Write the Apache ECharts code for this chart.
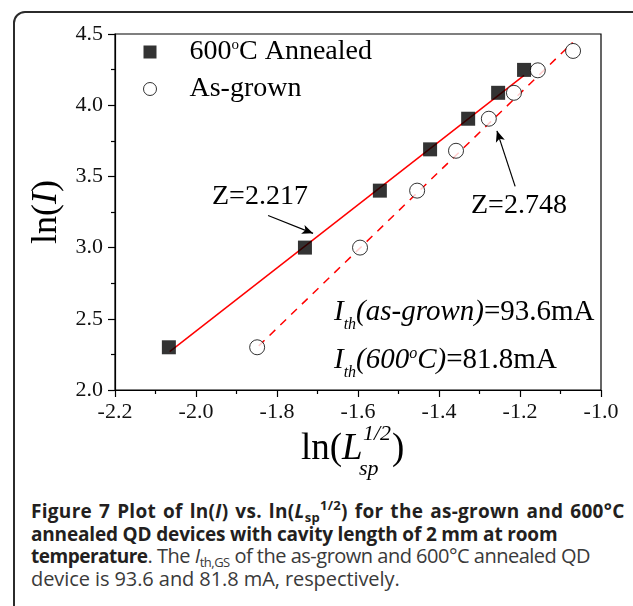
<!DOCTYPE html>
<html>
<head>
<meta charset="utf-8">
<script src="https://cdn.jsdelivr.net/npm/echarts@6/dist/echarts.min.js"></script>
<style>
  body { margin: 0; background: #fff; width: 633px; height: 606px; overflow: hidden; position: relative; }
  #frame { position: absolute; left: 13px; top: 11px; width: 700px; height: 700px; border: 2px solid #2b2b2b; border-radius: 12px; }
  #chart { position: absolute; left: 0; top: 0; width: 633px; height: 490px; }
  #caption { position: absolute; left: 31px; top: 500px; font-family: "Open Sans"; font-size: 20px; line-height: 22.6px; color: #3a3a3a; white-space: nowrap; }
  #caption div { height: 22.6px; }
  #caption b { color: #231f20; font-size: 19px; }
  #caption .l1 { letter-spacing: 0.3px; word-spacing: 1.7px; }
  #caption .l2 { letter-spacing: -0.17px; }
  #caption .l3 { letter-spacing: -0.5px; }
  #caption .l4 { letter-spacing: -0.08px; }
  #caption .sb { font-size: 13px; position: relative; top: 4px; }
  #caption .sp { font-size: 13px; position: relative; top: -8px; }
</style>
</head>
<body>
<div id="frame"></div>
<div id="chart"></div>
<div id="caption">
  <div class="l1"><b>Figure 7 Plot of ln(<i>I</i>) vs. ln(<i>L</i><span class="sb">sp</span><span class="sp">1/2</span>) for the as-grown and 600°C</b></div>
  <div class="l2"><b>annealed QD devices with cavity length of 2 mm at room</b></div>
  <div class="l3"><b>temperature</b>. The <i>I</i><span class="sb">th,GS</span> of the as-grown and 600°C annealed QD</div>
  <div class="l4">device is 93.6 and 81.8 mA, respectively.</div>
</div>
<script>
  // 600°C annealed (filled squares)
  var annealedX = [-2.067, -1.731, -1.546, -1.422, -1.328, -1.254, -1.190];
  var annealedY = [2.30, 3.00, 3.40, 3.69, 3.905, 4.087, 4.248];
  // as-grown (open circles)
  var grownX = [-1.849, -1.595, -1.454, -1.358, -1.277, -1.215, -1.156, -1.069];
  var grownY = [2.30, 3.00, 3.40, 3.68, 3.905, 4.087, 4.245, 4.381];
  // fitted lines (end points)
  var fitAnnealedX = [-2.065, -1.19];
  var fitAnnealedY = [2.27, 4.21];
  var fitGrownX = [-1.845, -1.07];
  var fitGrownY = [2.31, 4.44];
  // annotation arrows [x0, y0, x1, y1]
  var arrowAnnealed = [-1.822, 3.225, -1.711, 3.10];
  var arrowGrown = [-1.212, 3.43, -1.257, 3.82];

  function pairs(xs, ys) {
    return xs.map(function (x, i) { return [x, ys[i]]; });
  }
  function arrow(a) {
    return [{ coord: [a[0], a[1]] }, { coord: [a[2], a[3]] }];
  }

  var serif = 'Liberation Serif';
  var chart = echarts.init(document.getElementById('chart'));
  var option = {
    animation: false,
    grid: {
      left: 115, top: 34, width: 486, height: 356,
      show: true, borderColor: '#000', borderWidth: 1.2, backgroundColor: 'transparent'
    },
    legend: {
      orient: 'vertical', left: 138, top: 33, itemGap: 9,
      itemWidth: 13, itemHeight: 13,
      textStyle: {
        fontFamily: serif, fontSize: 28, color: '#000',
        rich: {
          g: { width: 28 },
          sup: { fontFamily: serif, fontSize: 15, color: '#000', verticalAlign: 'top' }
        }
      },
      formatter: function (name) {
        return name === '600°C Annealed' ? '{g|}600{sup|o}C Annealed' : '{g|}' + name;
      },
      data: [
        { name: '600°C Annealed', icon: 'rect', itemStyle: { color: '#000' } },
        { name: 'As-grown', icon: 'circle', itemStyle: { color: '#fff', borderColor: '#000', borderWidth: 1 } }
      ]
    },
    xAxis: {
      type: 'value', min: -2.2, max: -1.0, interval: 0.2,
      axisLine: { onZero: false, lineStyle: { color: '#000', width: 1.2 } },
      axisTick: { length: 7, lineStyle: { color: '#000', width: 1.2 } },
      minorTick: { show: true, splitNumber: 2, length: 4, lineStyle: { color: '#000', width: 1.2 } },
      splitLine: { show: false },
      axisLabel: {
        margin: 11, fontFamily: serif, fontSize: 22, color: '#111',
        formatter: function (v) { return v.toFixed(1); }
      }
    },
    yAxis: {
      type: 'value', min: 2.0, max: 4.5, interval: 0.5,
      name: 'ln({i|I})', nameLocation: 'middle', nameRotate: 90, nameGap: 48,
      nameTextStyle: {
        fontFamily: serif, fontSize: 36, color: '#000',
        rich: { i: { fontFamily: serif, fontSize: 36, fontStyle: 'italic', color: '#000' } }
      },
      axisLine: { onZero: false, lineStyle: { color: '#000', width: 1.2 } },
      axisTick: { length: 7, lineStyle: { color: '#000', width: 1.2 } },
      minorTick: { show: true, splitNumber: 2, length: 4, lineStyle: { color: '#000', width: 1.2 } },
      splitLine: { show: false },
      axisLabel: {
        margin: 12, fontFamily: serif, fontSize: 22, color: '#111',
        formatter: function (v) { return v.toFixed(1); }
      }
    },
    series: [
      {
        name: 'fitAnnealed', type: 'line', data: pairs(fitAnnealedX, fitAnnealedY),
        symbol: 'none', lineStyle: { color: '#ff0000', width: 1.5 }, z: 1,
        markLine: {
          silent: true, symbol: ['none', 'arrow'], symbolSize: [7, 11],
          label: { show: false },
          lineStyle: { color: '#000', type: 'solid', width: 1.2 },
          data: [arrow(arrowAnnealed)]
        }
      },
      {
        name: 'fitGrown', type: 'line', data: pairs(fitGrownX, fitGrownY),
        symbol: 'none', lineStyle: { color: '#ff0000', width: 1.5, type: [8, 7] }, z: 1,
        markLine: {
          silent: true, symbol: ['none', 'arrow'], symbolSize: [7, 11],
          label: { show: false },
          lineStyle: { color: '#000', type: 'solid', width: 1.2 },
          data: [arrow(arrowGrown)]
        }
      },
      {
        name: '600°C Annealed', type: 'scatter', data: pairs(annealedX, annealedY),
        symbol: 'rect', symbolSize: 14, itemStyle: { color: '#000' }, z: 3
      },
      {
        name: 'As-grown', type: 'scatter', data: pairs(grownX, grownY),
        symbol: 'circle', symbolSize: 15,
        itemStyle: { color: '#fff', borderColor: '#000', borderWidth: 1 }, z: 3
      }
    ],
    graphic: [
      { type: 'text', left: 212, top: 183, style: { text: 'Z=2.217', font: '28px "Liberation Serif"', fill: '#000' } },
      { type: 'text', left: 471, top: 192, style: { text: 'Z=2.748', font: '28px "Liberation Serif"', fill: '#000' } },
      {
        type: 'text', left: 334, top: 298,
        style: {
          text: '{i|I}{s|th}{i|(as-grown)}{n|=93.6mA}',
          rich: {
            i: { fontFamily: serif, fontSize: 29, fontStyle: 'italic', fill: '#000', verticalAlign: 'top' },
            n: { fontFamily: serif, fontSize: 29, fill: '#000', verticalAlign: 'top' },
            s: { fontFamily: serif, fontSize: 16, fontStyle: 'italic', fill: '#000', verticalAlign: 'top', padding: [19, 0, 0, 0] }
          }
        }
      },
      {
        type: 'text', left: 334, top: 346,
        style: {
          text: '{i|I}{s|th}{i|(600}{o|o}{i|C)}{n|=81.8mA}',
          rich: {
            i: { fontFamily: serif, fontSize: 29, fontStyle: 'italic', fill: '#000', verticalAlign: 'top' },
            n: { fontFamily: serif, fontSize: 29, fill: '#000', verticalAlign: 'top' },
            o: { fontFamily: serif, fontSize: 16, fontStyle: 'italic', fill: '#000', verticalAlign: 'top' },
            s: { fontFamily: serif, fontSize: 16, fontStyle: 'italic', fill: '#000', verticalAlign: 'top', padding: [19, 0, 0, 0] }
          }
        }
      },
      // x axis title: ln(L_sp^1/2)
      { type: 'text', left: 301, top: 431, style: { text: 'ln(', font: '37px "Liberation Serif"', fill: '#000' } },
      { type: 'text', left: 342, top: 431, style: { text: 'L', font: 'italic 37px "Liberation Serif"', fill: '#000' } },
      { type: 'text', left: 363, top: 423, style: { text: '1/2', font: 'italic 22px "Liberation Serif"', fill: '#000' } },
      { type: 'text', left: 359, top: 458, style: { text: 'sp', font: 'italic 22px "Liberation Serif"', fill: '#000' } },
      { type: 'text', left: 392, top: 431, style: { text: ')', font: '37px "Liberation Serif"', fill: '#000' } }
    ]
  };
  chart.setOption(option);
</script>
</body>
</html>
